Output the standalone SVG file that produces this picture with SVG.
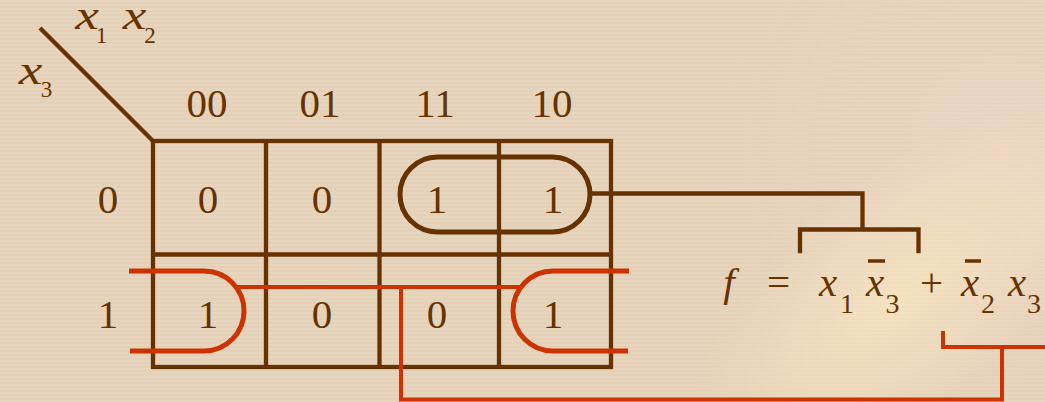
<svg xmlns="http://www.w3.org/2000/svg" width="1045" height="402" viewBox="0 0 1045 402">
<defs>
  <radialGradient id="glow" cx="900" cy="300" r="260" gradientUnits="userSpaceOnUse" gradientTransform="rotate(-40 900 300) scale(1 0.45) translate(0 360)">
    <stop offset="0" stop-color="#f5e2bd" stop-opacity="0.9"/>
    <stop offset="1" stop-color="#f5e2bd" stop-opacity="0"/>
  </radialGradient>
  <radialGradient id="pink" cx="1000" cy="150" r="300" gradientUnits="userSpaceOnUse">
    <stop offset="0" stop-color="#eed3c2" stop-opacity="0.8"/>
    <stop offset="1" stop-color="#eed3c2" stop-opacity="0"/>
  </radialGradient>
  <pattern id="stripes" width="4" height="4" patternUnits="userSpaceOnUse">
    <rect width="4" height="2" fill="#ffffff" opacity="0.06"/>
  </pattern>
  <style>
    .br { stroke: #663300; fill: none; stroke-width: 4.3; }
    .rd { stroke: #cc3300; fill: none; stroke-width: 5; }
    .rdl { stroke: #cc3300; fill: none; stroke-width: 4; }
  </style>
</defs>
<rect width="1045" height="402" fill="#e4d1b8"/>
<rect width="1045" height="402" fill="url(#pink)"/>
<rect width="1045" height="402" fill="url(#glow)"/>
<rect width="1045" height="402" fill="url(#stripes)"/>

<g id="axis-label" fill="#663300" text-anchor="middle">
  <line class="br" x1="40" y1="28" x2="153" y2="141"/>
  <text font-family="Liberation Serif" font-size="41" font-style="italic" transform="translate(87 29) scale(1.3 1)">x</text>
  <text font-family="Liberation Serif" font-size="23" x="101.5" y="43">1</text>
  <text font-family="Liberation Serif" font-size="41" font-style="italic" transform="translate(134.5 29) scale(1.3 1)">x</text>
  <text font-family="Liberation Serif" font-size="23" x="150" y="43">2</text>
  <text font-family="Liberation Serif" font-size="41" font-style="italic" transform="translate(30.5 84) scale(1.3 1)">x</text>
  <text font-family="Liberation Serif" font-size="23" x="46.5" y="97">3</text>
</g>

<g id="col-headers" fill="#663300" text-anchor="middle">
  <text font-family="Liberation Serif" font-size="41" x="207" y="117">00</text>
  <text font-family="Liberation Serif" font-size="41" x="320" y="117">01</text>
  <text font-family="Liberation Serif" font-size="41" x="435" y="117">11</text>
  <text font-family="Liberation Serif" font-size="41" x="552" y="117">10</text>
</g>
<g id="row-headers" fill="#663300" text-anchor="middle">
  <text font-family="Liberation Serif" font-size="41" x="108" y="213">0</text>
  <text font-family="Liberation Serif" font-size="41" x="108" y="328">1</text>
</g>

<g id="kmap" fill="#663300" text-anchor="middle">
  <rect class="br" x="153" y="141" width="458" height="226"/>
  <line class="br" x1="266" y1="141" x2="266" y2="367"/>
  <line class="br" x1="379.5" y1="141" x2="379.5" y2="367"/>
  <line class="br" x1="499" y1="141" x2="499" y2="367"/>
  <line class="br" x1="153" y1="254.5" x2="611" y2="254.5"/>
  <text font-family="Liberation Serif" font-size="41" x="208" y="213">0</text>
  <text font-family="Liberation Serif" font-size="41" x="322" y="213">0</text>
  <text font-family="Liberation Serif" font-size="41" x="437" y="213">1</text>
  <text font-family="Liberation Serif" font-size="41" x="553" y="213">1</text>
  <text font-family="Liberation Serif" font-size="41" x="208" y="328">1</text>
  <text font-family="Liberation Serif" font-size="41" x="322" y="328">0</text>
  <text font-family="Liberation Serif" font-size="41" x="437" y="328">0</text>
  <text font-family="Liberation Serif" font-size="41" x="553" y="328">1</text>
</g>

<g id="group-x1x3bar">
  <rect class="br" style="stroke-width:5" x="400" y="157" width="190" height="75" rx="37.5" ry="37.5"/>
</g>
<g id="group-x2bar-x3">
  <path class="rd" d="M129 271 H204 A40 40 0 0 1 204 351 H130"/>
  <path class="rd" d="M629 271 H553 A40 40 0 0 0 553 351 H628"/>
</g>

<g id="formula" fill="#663300" text-anchor="middle">
  <text font-family="Liberation Serif" font-size="41" font-style="italic" x="729" y="296">f</text>
  <text font-family="Liberation Serif" font-size="41" x="778.5" y="296">=</text>
  <text font-family="Liberation Serif" font-size="41" font-style="italic" x="828" y="296">x</text>
  <text font-family="Liberation Serif" font-size="28" x="847" y="313">1</text>
  <line x1="868" y1="261" x2="885" y2="261" stroke="#663300" stroke-width="3.5"/>
  <text font-family="Liberation Serif" font-size="41" font-style="italic" x="875" y="296">x</text>
  <text font-family="Liberation Serif" font-size="28" x="892.5" y="313">3</text>
  <text font-family="Liberation Serif" font-size="41" x="931.5" y="296">+</text>
  <line x1="965" y1="261" x2="981" y2="261" stroke="#663300" stroke-width="3.5"/>
  <text font-family="Liberation Serif" font-size="41" font-style="italic" x="970" y="296">x</text>
  <text font-family="Liberation Serif" font-size="28" x="988" y="313">2</text>
  <text font-family="Liberation Serif" font-size="41" font-style="italic" x="1017" y="296">x</text>
  <text font-family="Liberation Serif" font-size="28" x="1034" y="313">3</text>
</g>

<g id="connectors">
  <polyline class="br" points="590,193.5 862.5,193.5 862.5,229.5"/>
  <polyline class="br" style="stroke-linecap:square" points="800,251 800,229.5 918.5,229.5 918.5,251"/>
  <line class="rdl" x1="236" y1="287" x2="521" y2="287"/>
  <polyline class="rdl" points="401,287 401,399.5 1002,399.5 1002,347"/>
  <polyline class="rdl" points="943,331 943,347 1045,347"/>
</g>
</svg>
